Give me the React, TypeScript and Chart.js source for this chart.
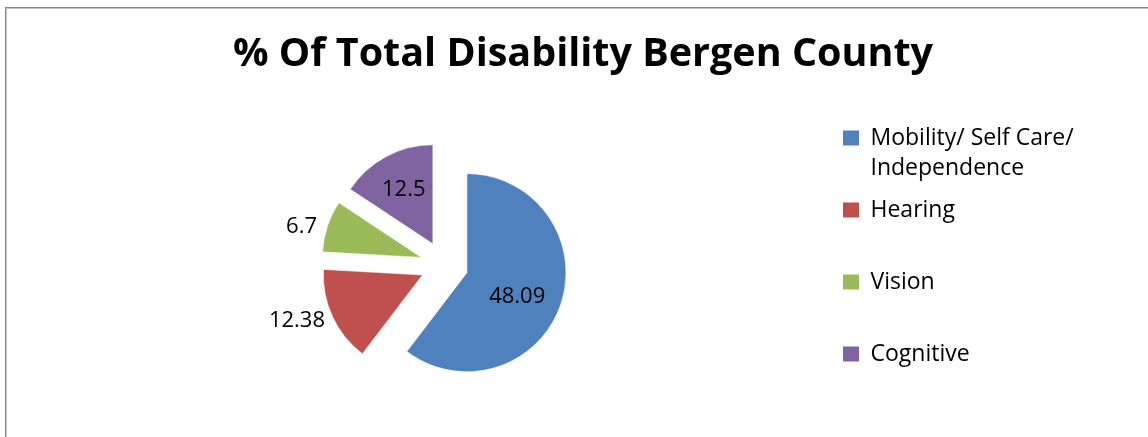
import React, { useEffect, useRef } from 'react';
import { Chart, registerables } from 'chart.js';

Chart.register(...registerables);

// ---- data ----
const TITLE = '% Of Total Disability Bergen County';
const CATEGORIES: (string | string[])[] = [
  ['Mobility/ Self Care/', 'Independence'],
  'Hearing',
  'Vision',
  'Cognitive',
];
const VALUES = [48.09, 12.38, 6.7, 12.5];
const COLORS = ['#4F81BD', '#C0504D', '#9BBB59', '#8064A2'];

// ---- style / layout constants ----
const W = 1148;
const H = 437;
const FONT = "'Open Sans', sans-serif";
const EXPLODE = 24;
const RADIUS = 99;
const TITLE_CENTER = 583;
const LEGEND_LEFT = 831;
const LABEL_FONT_SIZE = 22;
const LABEL_PLACE = ['inside', 'outside', 'outside', 'inside'];
const LABEL_NUDGE: [number, number][] = [[-6, 5], [-3, -11], [-3, 8], [-1, -2]];

const explodePlugin = {
  id: 'explodeAndLabels',
  beforeDatasetsDraw(chart: any) {
    const meta = chart.getDatasetMeta(0);
    meta.data.forEach((arc: any) => {
      const mid = (arc.startAngle + arc.endAngle) / 2;
      arc._ox = arc.x;
      arc._oy = arc.y;
      arc.x = arc._ox + Math.cos(mid) * EXPLODE;
      arc.y = arc._oy + Math.sin(mid) * EXPLODE;
    });
  },
  afterDatasetsDraw(chart: any) {
    const ctx = chart.ctx;
    const meta = chart.getDatasetMeta(0);
    ctx.save();
    ctx.font = `${LABEL_FONT_SIZE}px ${FONT}`;
    ctx.fillStyle = '#000';
    ctx.textAlign = 'center';
    ctx.textBaseline = 'middle';
    meta.data.forEach((arc: any, i: number) => {
      const mid = (arc.startAngle + arc.endAngle) / 2;
      const c = Math.cos(mid);
      const s = Math.sin(mid);
      const r = arc.outerRadius;
      const text = String(VALUES[i]);
      const tw = ctx.measureText(text).width;
      let x: number;
      let y: number;
      if (LABEL_PLACE[i] === 'inside') {
        x = arc.x + c * r * 0.6;
        y = arc.y + s * r * 0.6;
      } else {
        const ext = Math.abs(c) * tw / 2 + Math.abs(s) * LABEL_FONT_SIZE * 0.36;
        const d = r + 7 + ext;
        x = arc.x + c * d;
        y = arc.y + s * d;
      }
      x += LABEL_NUDGE[i][0];
      y += LABEL_NUDGE[i][1];
      ctx.fillText(text, x, y);
      if (arc._ox !== undefined) {
        arc.x = arc._ox;
        arc.y = arc._oy;
      }
    });
    ctx.restore();
  },
};

const titleCenterPlugin = {
  id: 'titleCenter',
  afterLayout(chart: any) {
    const t = chart.titleBlock;
    if (t) {
      t.left = 0;
      t.right = TITLE_CENTER * 2;
      t.width = TITLE_CENTER * 2;
    }
  },
};

export default function App() {
  const ref = useRef<HTMLCanvasElement>(null);

  useEffect(() => {
    const baseGen = (Chart as any).overrides.pie.plugins.legend.labels.generateLabels;
    const chart = new Chart(ref.current as HTMLCanvasElement, {
      type: 'pie',
      data: {
        labels: CATEGORIES as any,
        datasets: [
          {
            data: VALUES,
            backgroundColor: COLORS,
            borderColor: 'rgba(255,255,255,0.5)',
            borderWidth: 1,
            radius: RADIUS,
          } as any,
        ],
      },
      options: {
        responsive: false,
        animation: false,
        events: [],
        layout: { padding: { left: 57.4, right: 80, top: 0, bottom: 21.5 } },
        plugins: {
          title: {
            display: true,
            text: TITLE,
            color: '#000',
            font: { family: FONT, size: 39.5, weight: 'bold', lineHeight: 1.2 },
            padding: { top: 31.3, bottom: 35.8 },
          },
          legend: {
            display: true,
            position: 'right',
            align: 'start',
            fullSize: false,
            labels: {
              boxWidth: 16,
              boxHeight: 15,
              padding: 12,
              color: '#000',
              font: { family: FONT, size: 23, lineHeight: '30px' as any },
              generateLabels: (ch: any) =>
                baseGen(ch).map((item: any) => ({
                  ...item,
                  text: Array.isArray(item.text) ? item.text : [item.text, ''],
                  lineWidth: 0,
                })),
            },
          },
          tooltip: { enabled: false },
        },
      },
      plugins: [explodePlugin, titleCenterPlugin],
    });
    // place the legend column at the wanted x by adjusting the right padding
    const legend = (chart as any).legend;
    if (legend) {
      const delta = legend.left - LEGEND_LEFT;
      const pad = (chart.options.layout as any).padding;
      pad.right = pad.right + delta;
      chart.update();
    }
    return () => chart.destroy();
  }, []);

  return (
    <div
      style={{
        position: 'fixed',
        left: 0,
        top: 0,
        width: W,
        height: H,
        overflow: 'hidden',
        background: '#fff',
      }}
    >
      <div
        style={{
          position: 'absolute',
          left: 5,
          top: 7,
          width: 1300,
          height: 600,
          borderLeft: '1px solid #868686',
          borderTop: '1px solid #868686',
          boxShadow: 'inset 1px 1px 0 #c4c4c4',
        }}
      />
      <canvas
        ref={ref}
        width={W}
        height={H}
        style={{ position: 'absolute', left: 0, top: 0, width: W, height: H }}
      />
    </div>
  );
}
